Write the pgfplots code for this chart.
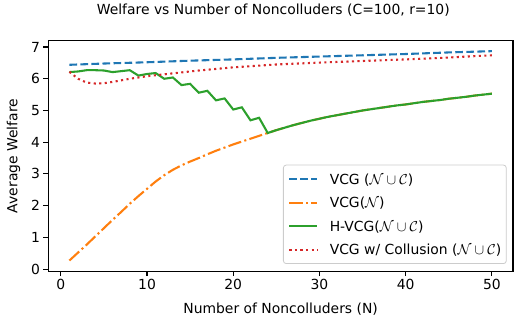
\documentclass[border=0pt]{standalone}
\usepackage{pgfplots}
\pgfplotsset{compat=1.18}
\usepackage{pgfplotstable}
\usepackage{fontspec}
\setmainfont{DejaVu Sans}
\newcommand\mpl{\fontsize{13.9bp}{16.7bp}\selectfont}
\definecolor{tblue}{HTML}{1F77B4}
\definecolor{torange}{HTML}{FF7F0E}
\definecolor{tgreen}{HTML}{2CA02C}
\definecolor{tred}{HTML}{D62728}

\pgfplotstableread{
N v
1 6.44
5 6.48
10 6.52
15 6.57
20 6.61
25 6.66
30 6.70
35 6.74
40 6.78
45 6.83
50 6.87
}\blue

\pgfplotstableread{
N v
1 0.27
2 0.52
3 0.77
4 1.03
5 1.29
6 1.55
7 1.80
8 2.06
9 2.30
10 2.53
11 2.76
12 2.96
13 3.13
14 3.27
15 3.39
16 3.50
17 3.62
18 3.73
19 3.83
20 3.93
21 4.02
22 4.11
23 4.20
24 4.29
25 4.38
26 4.46
27 4.54
28 4.61
29 4.68
30 4.74
31 4.80
32 4.85
33 4.90
34 4.95
35 5.00
36 5.04
37 5.08
38 5.12
39 5.16
40 5.19
41 5.23
42 5.27
43 5.30
44 5.33
45 5.37
46 5.40
47 5.43
48 5.47
49 5.50
50 5.53
}\orange

\pgfplotstableread{
N v
1 6.21
2 6.23
3 6.27
4 6.27
5 6.26
6 6.21
7 6.24
8 6.27
9 6.10
10 6.15
11 6.18
12 6.00
13 6.04
14 5.80
15 5.84
16 5.56
17 5.62
18 5.32
19 5.38
20 5.03
21 5.10
22 4.69
23 4.77
24 4.29
25 4.38
26 4.46
27 4.54
28 4.61
29 4.68
30 4.74
31 4.80
32 4.85
33 4.90
34 4.95
35 5.00
36 5.04
37 5.08
38 5.12
39 5.16
40 5.19
41 5.23
42 5.27
43 5.30
44 5.33
45 5.37
46 5.40
47 5.43
48 5.47
49 5.50
50 5.53
}\green

\pgfplotstableread{
N v
1 6.22
2 6.00
3 5.88
4 5.85
5 5.86
6 5.90
7 5.95
8 6.00
9 6.04
10 6.08
12 6.14
14 6.20
16 6.26
18 6.31
20 6.36
25 6.45
30 6.51
35 6.56
40 6.61
45 6.67
50 6.74
}\red

\begin{document}
\begin{tikzpicture}
\begin{axis}[
  scale only axis,
  width=464.7bp, height=230.6bp,
  xmin=-1.45, xmax=52.45,
  ymin=-0.07, ymax=7.2,
  xtick={0,10,20,30,40,50},
  ytick={0,1,2,3,4,5,6,7},
  axis background/.style={draw=black, line width=1.11bp},
  axis line style={line width=1.11bp, black},
  tick style={line width=1.11bp, black},
  tick align=outside,
  major tick length=4.86bp,
  tick pos=left,
  /pgf/number format/assume math mode=true,
  tick label style={font=\mpl},
  label style={font=\mpl},
  title style={font=\mpl},
  title={Welfare vs Number of Noncolluders (C=100, r=10)},
  title style={at={([yshift=20bp]axis description cs:0.4842,1)}, anchor=base},
  xlabel={Number of Noncolluders (N)},
  xlabel style={at={([yshift=-42.5bp]axis description cs:0.5,0)}, anchor=base},
  ylabel={Average Welfare},
  ylabel style={at={([xshift=-31bp]axis description cs:0,0.5)}, anchor=base},
  legend cell align=left,
  legend image code/.code={\draw[#1] (0bp,0bp) -- (27.8bp,0bp);},
  legend style={font=\mpl, at={(0.9864,0.0317)}, anchor=south east,
    draw=black!20, line width=0.8bp, rounded corners=2.8bp, fill=white, fill opacity=0.8, text opacity=1,
    inner xsep=5bp, inner ysep=7.5bp, row sep=10.5bp, column sep=11.5bp,
    nodes={inner sep=0pt, text height=11.5bp, text depth=1.5bp}},
]
\addplot[tblue, line width=2.08bp, dash pattern=on 7.7bp off 3.33bp] table[x=N,y=v]{\blue};
\addlegendentry{VCG ($\mathcal{N}\cup\mathcal{C}$)}
\addplot[torange, line width=2.08bp, dash pattern=on 13.3bp off 3.33bp on 2.08bp off 3.33bp] table[x=N,y=v]{\orange};
\addlegendentry{VCG($\mathcal{N}$)}
\addplot[tgreen, line width=2.08bp] table[x=N,y=v]{\green};
\addlegendentry{H-VCG($\mathcal{N}\cup\mathcal{C}$)}
\addplot[tred, line width=2.08bp, dash pattern=on 2.08bp off 3.44bp] table[x=N,y=v]{\red};
\addlegendentry{VCG w/ Collusion ($\mathcal{N}\cup\mathcal{C}$)}
\end{axis}
\pgfresetboundingbox
\path (current axis.south west) ++(-48.3bp,-52.7bp) rectangle ++(523bp,324bp);
\end{tikzpicture}
\end{document}
